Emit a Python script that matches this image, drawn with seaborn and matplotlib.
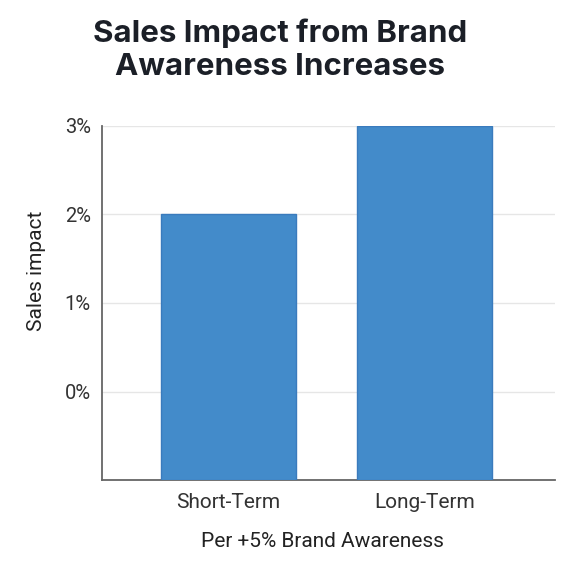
import matplotlib
matplotlib.use("Agg")
import matplotlib.pyplot as plt
import seaborn as sns
import pandas as pd

categories = ["Short-Term", "Long-Term"]
sales_impact = [2, 3]
y_ticks = [0, 1, 2, 3]
y_tick_labels = ["0%", "1%", "2%", "3%"]
baseline = -1

df = pd.DataFrame({"period": categories, "impact": sales_impact})

sns.set_theme(style="white")
plt.rcParams["font.family"] = ["Roboto", "DejaVu Sans"]

fig = plt.figure(figsize=(5.81, 5.77), dpi=100)
ax = fig.add_axes([102/581, 1 - 480/577, (555-102)/581, (480-126)/577])

sns.barplot(data=df, x="period", y="impact", color="#438bca", saturation=1,
            width=0.69, edgecolor="#3a7bbd", linewidth=1, ax=ax, zorder=3)

for p in ax.patches:
    top = p.get_y() + p.get_height()
    p.set_y(baseline)
    p.set_height(top - baseline)

ax.set_ylim(baseline, 3)
ax.set_xlim(-0.645, 1.666)
ax.set_yticks(y_ticks)
ax.set_yticklabels(y_tick_labels)
ax.yaxis.grid(True, color="#e6e6e6", linewidth=1, zorder=0)
ax.set_axisbelow(True)
ax.tick_params(axis="both", length=0, colors="#333333")
ax.tick_params(axis="y", pad=8, labelsize=14.5)
ax.tick_params(axis="x", pad=9, labelsize=15)
for s in ["top", "right"]:
    ax.spines[s].set_visible(False)
for s in ["left", "bottom"]:
    ax.spines[s].set_color("#666666")
    ax.spines[s].set_linewidth(1.3)

ax.set_xlabel("Per +5% Brand Awareness", fontsize=15, color="#222222")
ax.set_ylabel("Sales impact", fontsize=15, color="#222222")
ax.yaxis.set_label_coords(-0.123, 0.59)
ax.xaxis.set_label_coords(0.487, -0.148)

fig.text(0.482, 0.968, "Sales Impact from Brand\nAwareness Increases", ha="center", va="top",
         fontsize=22.5, fontweight="bold", family=["Inter", "DejaVu Sans"], color="#1b1f27",
         linespacing=1.22)

fig.savefig("out.png", dpi=100, facecolor="white")
